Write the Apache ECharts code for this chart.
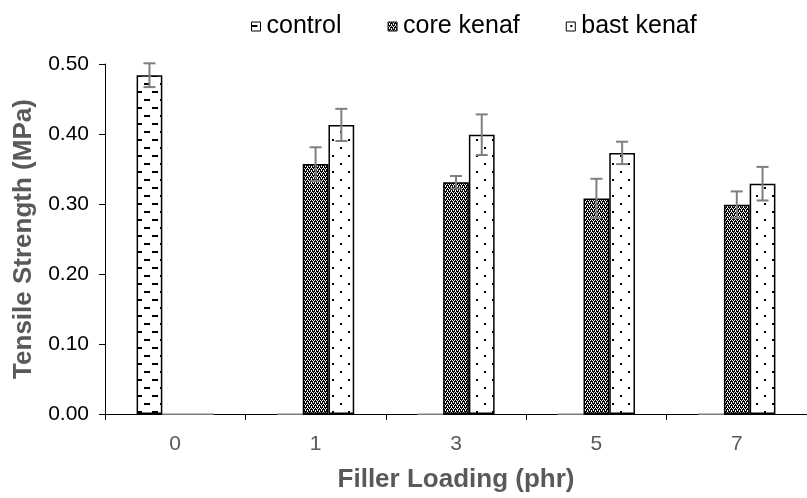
<!DOCTYPE html>
<html><head><meta charset="utf-8">
<script src="https://cdn.jsdelivr.net/npm/echarts@6/dist/echarts.min.js"></script>
<style>html,body{margin:0;padding:0;background:#fff}#c{width:807px;height:498px}</style>
</head><body><div id="c"></div>
<script>
const categories = ['0', '1', '3', '5', '7'];
const seriesNames = ['control', 'core kenaf', 'bast kenaf'];
const controlValues = [0.484, 0, 0, 0, 0];
const coreValues = [0, 0.357, 0.331, 0.308, 0.299];
const bastValues = [0, 0.413, 0.399, 0.373, 0.329];
const controlErr = [0.017, null, null, null, null];
const coreErr = [null, 0.024, 0.009, 0.028, 0.019];
const bastErr = [null, 0.023, 0.029, 0.016, 0.024];

function makePattern(kind) {
  const c = document.createElement('canvas');
  const ctx = c.getContext('2d');
  if (kind === 'dash') {
    c.width = 16; c.height = 16;
    ctx.fillStyle = '#fff'; ctx.fillRect(0, 0, 16, 16);
    ctx.fillStyle = '#000';
    ctx.fillRect(0, 3, 6, 2);
    ctx.fillRect(8, 11, 6, 2);
  } else if (kind === 'check') {
    c.width = 4; c.height = 4;
    ctx.fillStyle = '#000'; ctx.fillRect(0, 0, 4, 4);
    ctx.fillStyle = '#fff';
    ctx.fillRect(0, 0, 1, 1); ctx.fillRect(2, 0, 1, 1);
    ctx.fillRect(1, 2, 1, 1); ctx.fillRect(3, 2, 1, 1);
    ctx.fillRect(1, 1, 1, 1); ctx.fillRect(3, 3, 1, 1);
  } else {
    c.width = 16; c.height = 16;
    ctx.fillStyle = '#fff'; ctx.fillRect(0, 0, 16, 16);
    ctx.fillStyle = '#000';
    ctx.fillRect(4, 3, 2, 2);
    ctx.fillRect(12, 11, 2, 2);
  }
  return { image: c, repeat: 'repeat' };
}
const patterns = [makePattern('dash'), makePattern('check'), makePattern('dot')];
const valueSets = [controlValues, coreValues, bastValues];
const errSets = [controlErr, coreErr, bastErr];

const chart = echarts.init(document.getElementById('c'), null, { renderer: 'canvas' });
const GAP = 0.45;

const barSeries = seriesNames.map((n, i) => ({
  name: n, type: 'bar',
  data: valueSets[i].map(v => v === 0 ? { value: v, itemStyle: { borderColor: '#a6a6a6', borderWidth: 1 } } : v),
  barGap: '0%', barCategoryGap: (GAP * 100) + '%',
  itemStyle: { color: patterns[i], borderColor: '#000', borderWidth: 1.5 },
  emphasis: { disabled: true }
}));

const errSeries = seriesNames.map((n, i) => ({
  type: 'custom', name: n + ' err', z: 5,
  data: valueSets[i].map((v, k) => [k, v, errSets[i][k]]).filter(d => d[2] != null),
  renderItem: function (params, api) {
    const k = api.value(0), v = api.value(1), e = api.value(2);
    const band = api.size([1, 0])[0];
    const bw = band * (1 - GAP) / 3;
    const cx = api.coord([k, v])[0] + (i - 1) * bw;
    const yt = api.coord([k, v + e])[1];
    const yb = api.coord([k, v - e])[1];
    const cap = 6;
    const st = { stroke: '#7f7f7f', lineWidth: 2 };
    return { type: 'group', children: [
      { type: 'line', shape: { x1: cx, y1: yt, x2: cx, y2: yb }, style: st },
      { type: 'line', shape: { x1: cx - cap, y1: yt, x2: cx + cap, y2: yt }, style: st },
      { type: 'line', shape: { x1: cx - cap, y1: yb, x2: cx + cap, y2: yb }, style: st }
    ]};
  }
}));

chart.setOption({
  animation: false,
  textStyle: { fontFamily: 'Liberation Sans, Arial, sans-serif' },
  legend: {
    data: seriesNames.map((n, i) => ({ name: n, icon: 'rect', itemStyle: { color: patterns[i], borderColor: '#000', borderWidth: 1 } })),
    top: 9, left: 246, itemWidth: 9, itemHeight: 9, itemGap: 46,
    textStyle: { fontSize: 25, color: '#000', fontFamily: 'Liberation Sans, Arial, sans-serif', padding: [0, 0, 0, 1] }
  },
  grid: { left: 105, top: 64, width: 710, height: 360 },
  xAxis: {
    type: 'category', data: categories,
    axisLine: { lineStyle: { color: '#000', width: 1 } },
    axisTick: { show: true, length: 6, lineStyle: { color: '#000' } },
    axisLabel: { fontSize: 21, color: '#595959', margin: 20 },
    name: 'Filler Loading (phr)', nameLocation: 'middle', nameGap: 53,
    nameTextStyle: { fontSize: 26, fontWeight: 'bold', color: '#595959' }
  },
  yAxis: {
    type: 'value', min: 0, max: 0.5, interval: 0.1,
    axisLine: { show: true, lineStyle: { color: '#000', width: 1 } },
    axisTick: { show: true, length: 6, lineStyle: { color: '#000' } },
    splitLine: { show: false },
    axisLabel: { fontSize: 21, color: '#000', margin: 16, formatter: v => v.toFixed(2) },
    name: 'Tensile Strength (MPa)', nameLocation: 'middle', nameGap: 65,
    nameTextStyle: { fontSize: 26, fontWeight: 'bold', color: '#595959' }
  },
  series: barSeries.concat(errSeries)
});
</script></body></html>
